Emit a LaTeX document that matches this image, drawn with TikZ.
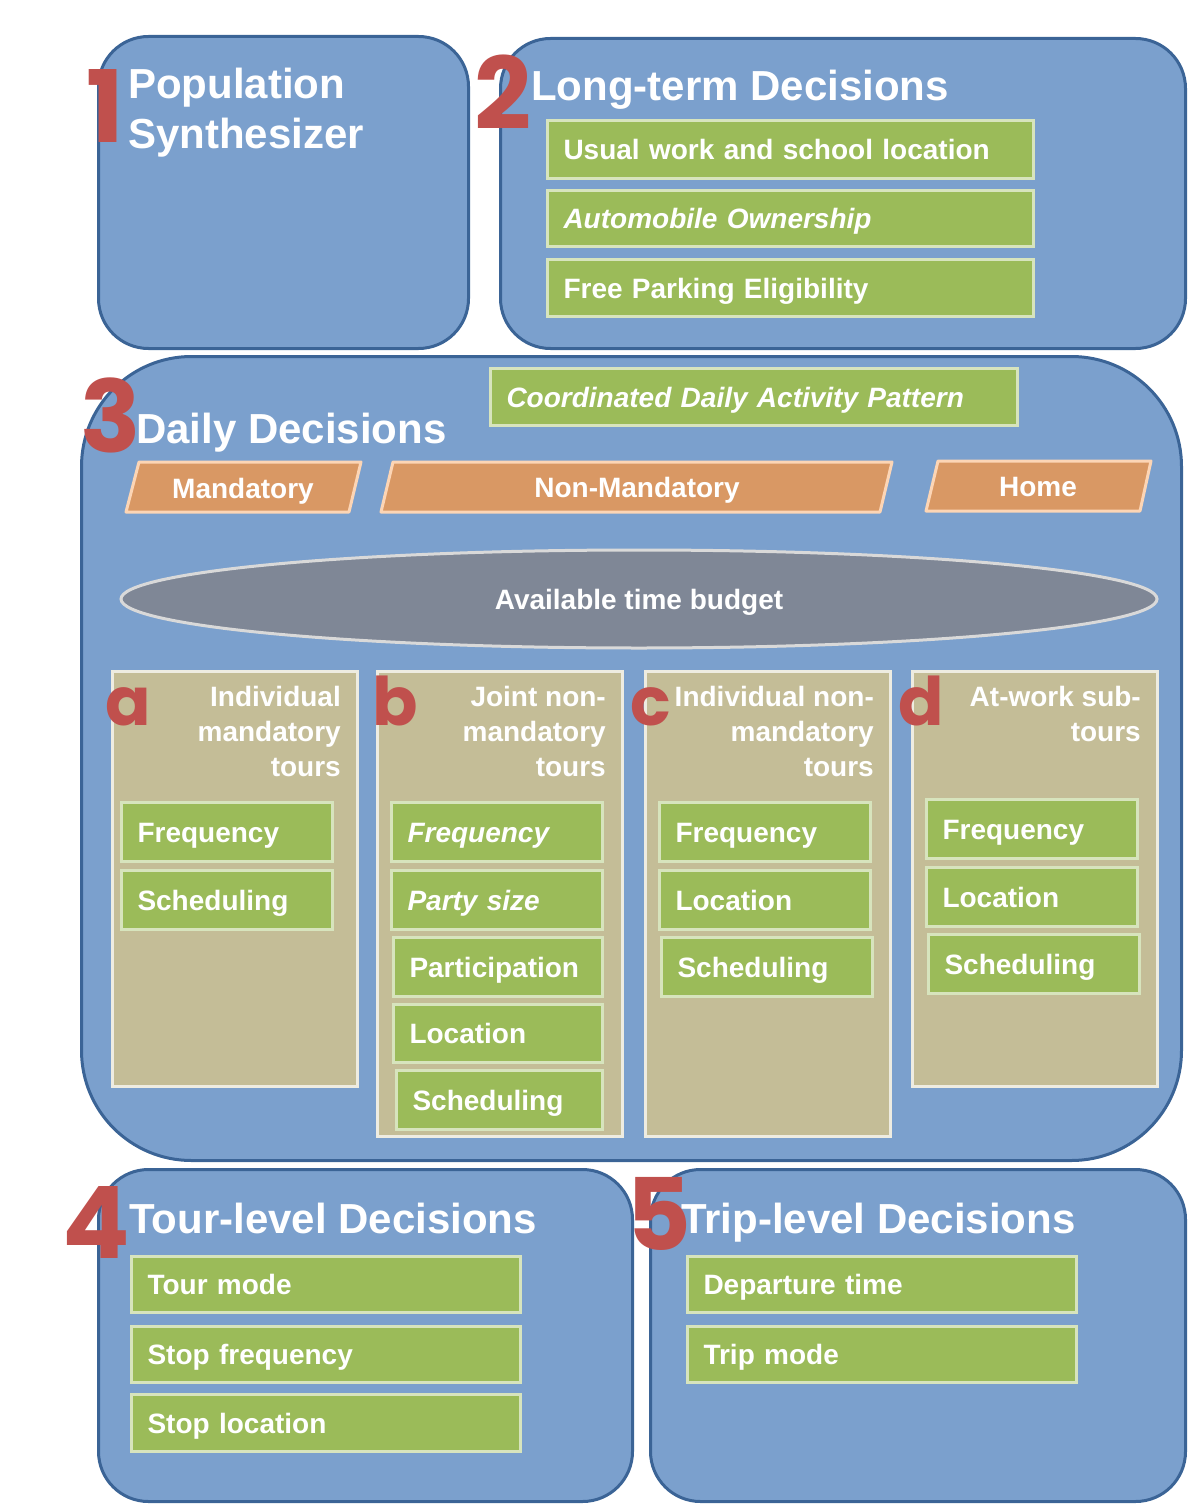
\documentclass[tikz,border=0pt]{standalone}
\usepackage{fontspec}
\setmainfont{Liberation Sans}
\newfontfamily\numfont{Poppins}
\usetikzlibrary{shapes.geometric}
\definecolor{panel}{HTML}{7BA0CD}
\definecolor{panelline}{HTML}{3B6496}
\definecolor{stepfill}{HTML}{9BBB59}
\definecolor{stepline}{HTML}{D7E4BD}
\definecolor{choicefill}{HTML}{D99864}
\definecolor{choiceline}{HTML}{FCD5B5}
\definecolor{tourfill}{HTML}{C4BD97}
\definecolor{tourline}{HTML}{EEECE1}
\definecolor{budgetfill}{HTML}{7F8796}
\definecolor{budgetline}{HTML}{D9D9D9}
\definecolor{numred}{HTML}{C0504D}
\begin{document}
\begin{tikzpicture}[x=1pt,y=-1pt,
  panelbox/.style={draw=panelline, line width=3pt, fill=panel, rounded corners=#1,
    anchor=north west, inner sep=0pt},
  paneltitle/.style={text=white, font=\bfseries\fontsize{42}{50}\selectfont,
    inner sep=0pt, align=left},
  stepbox/.style={draw=stepline, line width=3pt, fill=stepfill, text=white,
    font=\bfseries\fontsize{28}{34}\selectfont, anchor=north west,
    inner xsep=16pt, inner ysep=0pt, text height=20pt, text depth=0pt, align=left},
  italicstep/.style={stepbox, font=\bfseries\itshape\fontsize{28}{34}\selectfont},
  tourcol/.style={draw=tourline, line width=3pt, fill=tourfill, anchor=north west,
    inner sep=0pt},
  coltitle/.style={text=white, font=\bfseries\fontsize{28}{35}\selectfont,
    align=right, anchor=north east, inner sep=0pt},
  choice/.style={draw=choiceline, line width=3pt, fill=choicefill, line join=round},
  choicetext/.style={text=white, font=\bfseries\fontsize{28}{34}\selectfont,
    text height=20pt, text depth=0pt, inner sep=0pt},
  numeral/.style={text=numred, font=\numfont\bfseries\fontsize{100}{100}\selectfont,
    anchor=base west, inner sep=0pt},
  letter/.style={text=numred, font=\numfont\bfseries\fontsize{67}{67}\selectfont,
    anchor=base west, inner sep=0pt},
]
\useasboundingbox (0,0) rectangle (1189,1506);

% ---------- 1: population synthesizer ----------
\node[panelbox=50pt, minimum width=370pt, minimum height=312pt] (p1) at (97,35) {};
\node[paneltitle, anchor=north west] (p1t) at (128,68) {Population\\Synthesizer};

% ---------- 2: long-term decisions ----------
\node[panelbox=50pt, minimum width=685pt, minimum height=310pt] (p2) at (499,37) {};
\node[paneltitle, anchor=base west] (p2t) at (531,101) {Long-term Decisions};
\node[stepbox, text width=454pt, minimum height=58pt] (work) at (546,119) {Usual work and school location};
\node[italicstep, text width=454pt, minimum height=56pt] (auto) at (546,189) {Automobile Ownership};
\node[stepbox, text width=454pt, minimum height=57pt] (park) at (546,258) {Free Parking Eligibility};

% ---------- 3: daily decisions ----------
\node[panelbox=110pt, minimum width=1100pt, minimum height=804pt] (p3) at (80,355) {};
\node[paneltitle, anchor=base west] (p3t) at (136,443) {Daily Decisions};
\node[italicstep, text width=495pt, minimum height=57pt] (cdap) at (489,367) {Coordinated Daily Activity Pattern};

% activity-pattern types
\filldraw[choice] (126,512) -- (139,462) -- (361,462) -- (349,512) -- cycle;
\node[choicetext] (mand) at (243,488) {Mandatory};
\filldraw[choice] (381,512) -- (393,462) -- (892,462) -- (880,512) -- cycle;
\node[choicetext] (nonmand) at (637,487) {Non-Mandatory};
\filldraw[choice] (926,511) -- (938,461) -- (1151,461) -- (1140,511) -- cycle;
\node[choicetext] (home) at (1038,486) {Home};

% time budget
\node[ellipse, draw=budgetline, line width=3pt, fill=budgetfill, minimum width=1036pt,
  minimum height=98pt, inner sep=0pt] (budget) at (639,599) {};
\node[choicetext] (budgettext) at (639,599) {Available time budget};

% tour columns
\node[tourcol, minimum width=245pt, minimum height=415pt] (ca) at (111,670) {};
\node[tourcol, minimum width=245pt, minimum height=465pt] (cb) at (376,670) {};
\node[tourcol, minimum width=245pt, minimum height=465pt] (cc) at (644,670) {};
\node[tourcol, minimum width=245pt, minimum height=415pt] (cd) at (911,670) {};

\node[coltitle] (cat) at (341,686) {Individual\\mandatory\\tours};
\node[coltitle] (cbt) at (606,686) {Joint non-\\mandatory\\tours};
\node[coltitle] (cct) at (874,686) {Individual non-\\mandatory\\tours};
\node[coltitle] (cdt) at (1141,686) {At-work sub-\\tours};

\node[letter] (la) at (105,725) {a};
\node[letter] (lb) at (372,725) {b};
\node[letter] (lc) at (630,725) {c};
\node[letter] (ld) at (898,725) {d};

% a: individual mandatory
\node[stepbox, text width=179pt, minimum height=59pt] (afreq) at (120,801) {Frequency};
\node[stepbox, text width=179pt, minimum height=59pt] (asched) at (120,869) {Scheduling};
% b: joint non-mandatory
\node[italicstep, text width=179pt, minimum height=59pt] (bfreq) at (390,801) {Frequency};
\node[italicstep, text width=179pt, minimum height=59pt] (bparty) at (390,869) {Party size};
\node[stepbox, text width=177pt, minimum height=59pt] (bpart) at (392,936) {Participation};
\node[stepbox, text width=177pt, minimum height=58pt] (bloc) at (392,1003) {Location};
\node[stepbox, text width=174pt, minimum height=59pt] (bsched) at (395,1069) {Scheduling};
% c: individual non-mandatory
\node[stepbox, text width=179pt, minimum height=59pt] (cfreq) at (658,801) {Frequency};
\node[stepbox, text width=179pt, minimum height=59pt] (cloc) at (658,869) {Location};
\node[stepbox, text width=179pt, minimum height=59pt] (csched) at (660,936) {Scheduling};
% d: at-work sub-tours
\node[stepbox, text width=179pt, minimum height=59pt] (dfreq) at (925,798) {Frequency};
\node[stepbox, text width=179pt, minimum height=59pt] (dloc) at (925,866) {Location};
\node[stepbox, text width=179pt, minimum height=59pt] (dsched) at (927,933) {Scheduling};

% ---------- 4: tour-level decisions ----------
\node[panelbox=50pt, minimum width=534pt, minimum height=332pt] (p4) at (97,1168) {};
\node[paneltitle, anchor=base west] (p4t) at (129,1233) {Tour-level Decisions};
\node[stepbox, text width=357pt, minimum height=56pt] (tmode) at (130,1255) {Tour mode};
\node[stepbox, text width=357pt, minimum height=56pt] (sfreq) at (130,1325) {Stop frequency};
\node[stepbox, text width=357pt, minimum height=57pt] (sloc) at (130,1393) {Stop location};

% ---------- 5: trip-level decisions ----------
\node[panelbox=50pt, minimum width=535pt, minimum height=332pt] (p5) at (649,1168) {};
\node[paneltitle, anchor=base west] (p5t) at (681,1233) {Trip-level Decisions};
\node[stepbox, text width=357pt, minimum height=56pt] (dep) at (686,1255) {Departure time};
\node[stepbox, text width=357pt, minimum height=56pt] (trip) at (686,1325) {Trip mode};

% ---------- stage numerals ----------
\node[numeral] (n1) at (86,143) {1};
\node[numeral] (n2) at (474,130) {2};
\node[numeral] (n3) at (80,452) {3};
\node[numeral] (n4) at (62,1258) {4};
\node[numeral] (n5) at (626,1250) {5};
\end{tikzpicture}
\end{document}
